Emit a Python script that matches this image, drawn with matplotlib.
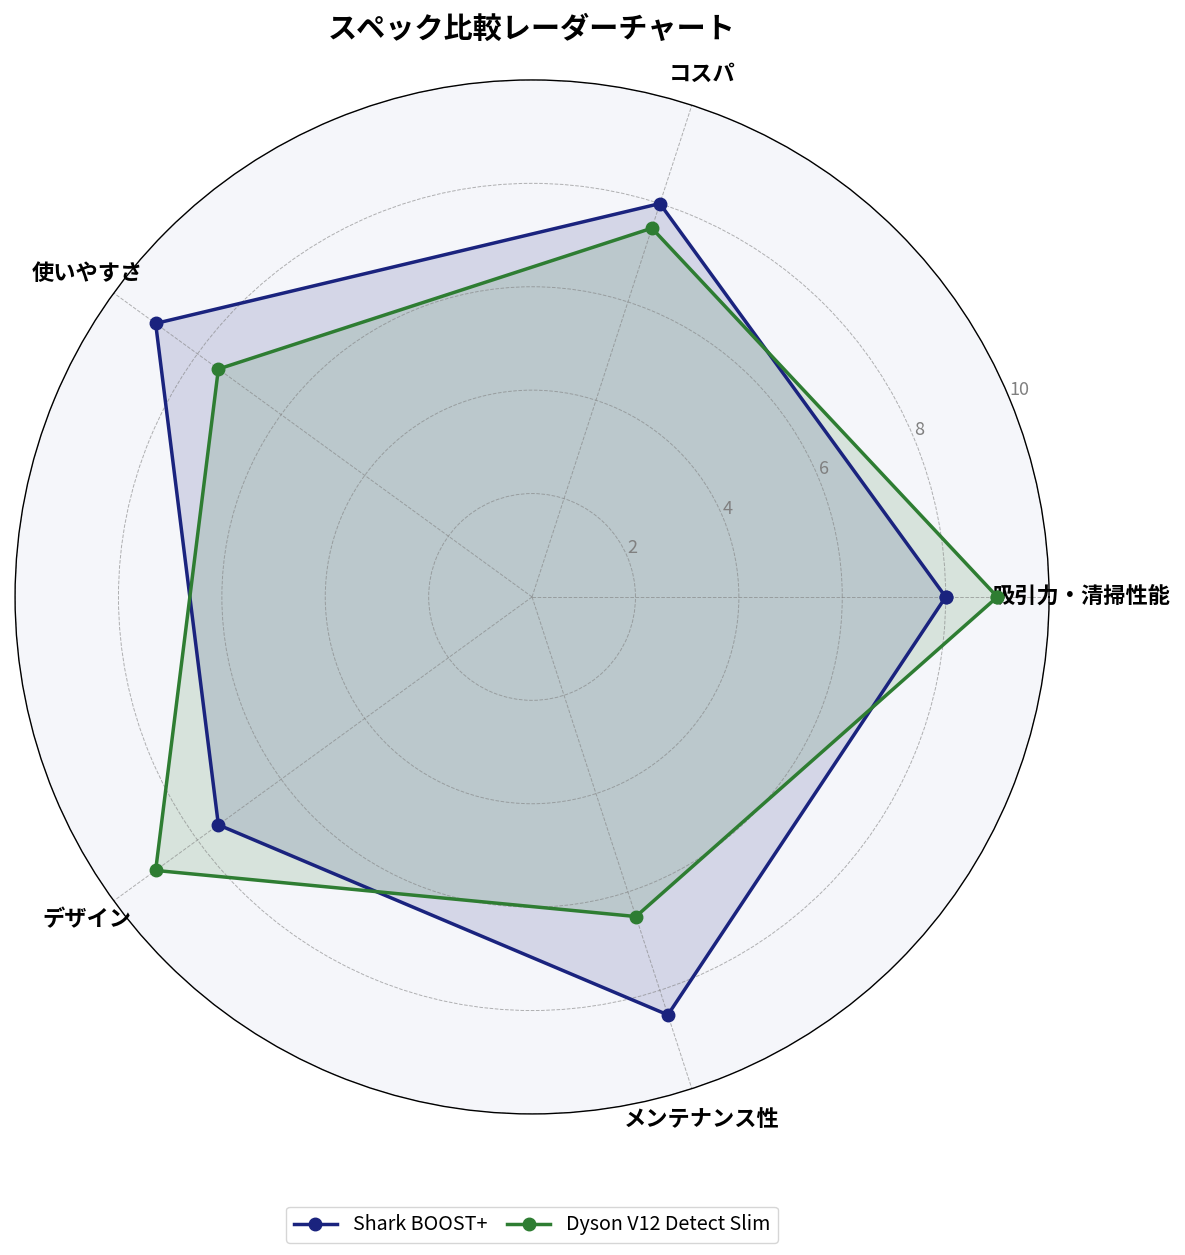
import numpy as np
import matplotlib
matplotlib.use("Agg")
import matplotlib.pyplot as plt

plt.rcParams['font.family'] = ['Noto Sans CJK JP', 'DejaVu Sans']

# データ
categories = ['吸引力・清掃性能', 'コスパ', '使いやすさ', 'デザイン', 'メンテナンス性']
shark_values = [8.0, 8.0, 9.0, 7.5, 8.5]
dyson_values = [9.0, 7.5, 7.5, 9.0, 6.5]
series_names = ['Shark BOOST+', 'Dyson V12 Detect Slim']
series_colors = ['#1a237e', '#2e7d32']
r_ticks = [2, 4, 6, 8, 10]

n = len(categories)
angles = np.linspace(0, 2 * np.pi, n, endpoint=False).tolist()
angles_closed = angles + angles[:1]

fig = plt.figure(figsize=(11.85, 12.55), dpi=100)
ax = fig.add_axes([0.0127, 0.1124, 0.8726, 0.8239], polar=True)
ax.set_facecolor('#f5f6fa')

for name, vals, col in zip(series_names, [shark_values, dyson_values], series_colors):
    v = vals + vals[:1]
    ax.plot(angles_closed, v, color=col, linewidth=2.5, marker='o', markersize=9, label=name)
    ax.fill(angles_closed, v, color=col, alpha=0.15)

ax.set_ylim(0, 10)
ax.set_yticks(r_ticks)
ax.set_yticklabels([str(t) for t in r_ticks], color='gray', fontsize=13)
ax.set_rlabel_position(22.5)
ax.set_xticks(angles)
ax.set_xticklabels(categories, fontsize=16, fontweight='bold')
ax.tick_params(axis='x', pad=13)
ax.grid(True, color='gray', linestyle='--', linewidth=0.7, alpha=0.6)
ax.spines['polar'].set_color('black')
ax.spines['polar'].set_linewidth(1.0)

ax.set_title('スペック比較レーダーチャート', fontsize=21, fontweight='bold', pad=30)
ax.legend(loc='upper center', bbox_to_anchor=(0.5, -0.08), ncol=2, fontsize=14.2,
          frameon=True, handlelength=2.2, columnspacing=1.0)

fig.savefig('out.png', dpi=100)
plt.close(fig)
